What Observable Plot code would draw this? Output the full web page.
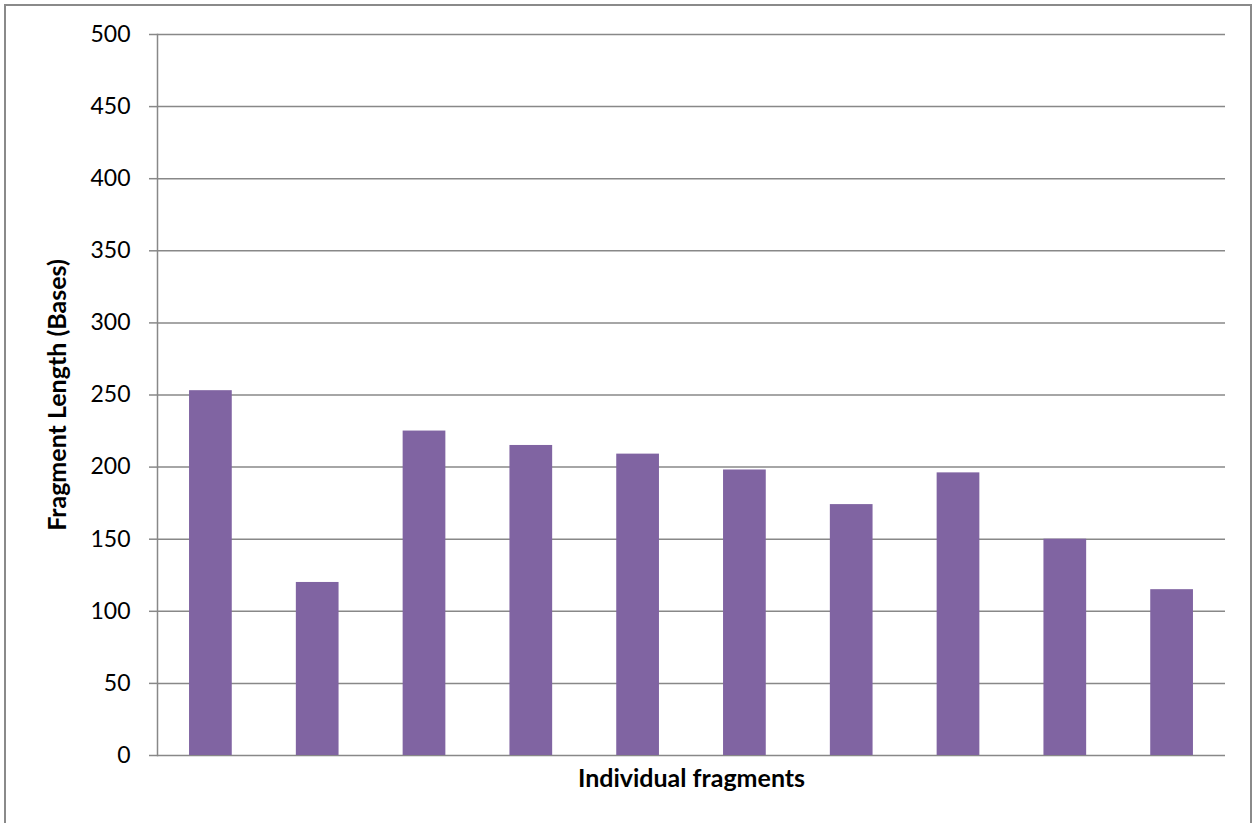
<!DOCTYPE html>
<html>
<head>
<meta charset="utf-8">
<script src="https://cdn.jsdelivr.net/npm/d3@7"></script>
<script src="https://cdn.jsdelivr.net/npm/@observablehq/plot@0.6"></script>
<style>
  html, body { margin: 0; padding: 0; background: #fff; }
  #wrap { position: relative; width: 1257px; height: 823px; overflow: hidden; }
  #border { position: absolute; left: 4px; top: 4px; width: 1248px; height: 840px; border: 2px solid #8a8a8a; box-sizing: border-box; }
  #chart { position: absolute; left: 0; top: 0; }
</style>
</head>
<body>
<div id="wrap">
  <div id="border"></div>
  <div id="chart"></div>
</div>
<script>
// Fragment index (not labelled on the axis) and measured length in bases
const fragments = ["1", "2", "3", "4", "5", "6", "7", "8", "9", "10"];
const lengths = [253, 120, 225, 215, 209, 198, 174, 196, 150, 115];
const yTicks = [0, 50, 100, 150, 200, 250, 300, 350, 400, 450, 500];
const yTitle = "Fragment Length (Bases)";
const xTitle = "Individual fragments";

const rows = fragments.map((f, i) => ({fragment: f, length: lengths[i]}));
const gridColor = "#888888";

const chart = Plot.plot({
  width: 1257,
  height: 823,
  marginLeft: 157,
  marginRight: 32,
  marginTop: 34,
  marginBottom: 68,
  style: {fontFamily: "Lato, 'Liberation Sans', sans-serif", fontSize: "23px", color: "#000", background: "transparent"},
  x: {domain: fragments, paddingInner: 0.6, paddingOuter: 0.3, round: false, axis: null},
  y: {domain: [0, 500], axis: null},
  marks: [
    Plot.gridY(yTicks, {stroke: gridColor, strokeOpacity: 1, strokeWidth: 1.5}),
    Plot.axisY(yTicks, {tickSize: 8, tickPadding: 19, stroke: gridColor, strokeWidth: 1.5, fill: "#000", fontSize: 23, label: null}),
    Plot.frame({anchor: "left", stroke: gridColor, strokeWidth: 1.5}),
    Plot.barY(rows, {x: "fragment", y: "length", fill: "#8064A2"}),
    Plot.text([yTitle], {frameAnchor: "left", dx: -100, rotate: -90, textAnchor: "middle", lineAnchor: "middle", fontWeight: "bold", fontSize: 25, fill: "#000"}),
    Plot.text([xTitle], {frameAnchor: "bottom", dy: 23, textAnchor: "middle", lineAnchor: "middle", fontWeight: "bold", fontSize: 25, fill: "#000"})
  ]
});
document.getElementById("chart").appendChild(chart);
</script>
</body>
</html>
